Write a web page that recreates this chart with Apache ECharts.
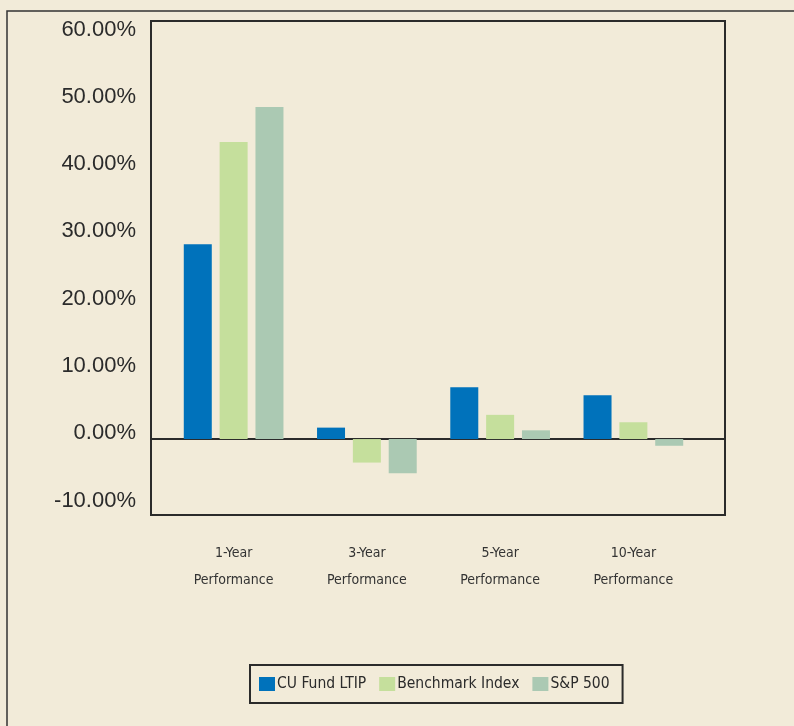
<!DOCTYPE html>
<html>
<head>
<meta charset="utf-8">
<script src="https://cdn.jsdelivr.net/npm/echarts@6/dist/echarts.min.js"></script>
<style>
html,body{margin:0;padding:0;background:#f2ebd9;}
#c{width:794px;height:726px;}
</style>
</head>
<body>
<div id="c"></div>
<script>
var categories = ['1-Year\nPerformance', '3-Year\nPerformance', '5-Year\nPerformance', '10-Year\nPerformance'];
var seriesNames = ['CU Fund LTIP', 'Benchmark Index', 'S&P 500'];
var cuFund = [29.0, 1.7, 7.7, 6.5];
var benchmark = [44.2, -3.5, 3.6, 2.5];
var sp500 = [49.4, -5.1, 1.3, -1.0];
var yTickMin = -10, yTickMax = 60, yTickStep = 10;
var yMin = -11.3, yMax = 62.2;

var colors = ['#0072bb', '#c5df9c', '#abc9b3'];
var ink = '#2b2b2b';
var narrow = '"Liberation Sans Narrow","DejaVu Sans Condensed",sans-serif';
var sans = '"Liberation Sans",Arial,Helvetica,sans-serif';

var chart = echarts.init(document.getElementById('c'), null, {renderer: 'canvas'});
chart.setOption({
  backgroundColor: '#f2ebd9',
  animation: false,
  graphic: [{
    type: 'rect', z: -1, silent: true,
    shape: {x: 7, y: 11, width: 900, height: 900},
    style: {fill: null, stroke: '#333', lineWidth: 1.5}
  }],
  legend: {
    left: 250, top: 665,
    padding: [11, 13, 11, 9],
    borderColor: ink, borderWidth: 2,
    itemWidth: 16, itemHeight: 14, itemGap: 13,
    icon: 'rect',
    data: seriesNames,
    textStyle: {fontFamily: narrow, fontSize: 15.5, color: ink, padding: [0, 0, 0, -3]}
  },
  grid: [
    {left: 151, right: 69, top: 21, bottom: 211, show: true, borderColor: ink, borderWidth: 2, backgroundColor: 'transparent'},
    {left: 167, right: 94, top: 21, bottom: 211},
    {left: 151, right: 69, top: 29.5, bottom: 225.5}
  ],
  xAxis: [
    {gridIndex: 0, type: 'value', min: 0, max: 1, show: true,
     axisLine: {show: true, onZero: true, lineStyle: {color: ink, width: 2}},
     axisTick: {show: false}, axisLabel: {show: false}, splitLine: {show: false}},
    {gridIndex: 1, type: 'category', data: categories, position: 'bottom',
     axisLine: {show: false, onZero: false}, axisTick: {show: false}, splitLine: {show: false},
     axisLabel: {margin: 25, fontFamily: narrow, fontSize: 14, lineHeight: 27, color: '#333'}},
    {gridIndex: 2, type: 'value', show: false, min: 0, max: 1}
  ],
  yAxis: [
    {gridIndex: 0, type: 'value', min: yMin, max: yMax, show: false, splitLine: {show: false}},
    {gridIndex: 1, type: 'value', min: yMin, max: yMax, show: false, splitLine: {show: false}},
    {gridIndex: 2, type: 'value', min: yTickMin, max: yTickMax, interval: yTickStep,
     axisLine: {show: false}, axisTick: {show: false}, splitLine: {show: false},
     axisLabel: {
       margin: 15,
       fontFamily: sans, fontSize: 22, color: '#2b2b2b',
       formatter: function (v) { return v.toFixed(2) + '%'; }
     }}
  ],
  series: [
    {name: seriesNames[0], type: 'bar', xAxisIndex: 1, yAxisIndex: 1, data: cuFund, barWidth: 28, barGap: '28%', itemStyle: {color: colors[0]}},
    {name: seriesNames[1], type: 'bar', xAxisIndex: 1, yAxisIndex: 1, data: benchmark, barWidth: 28, barGap: '28%', itemStyle: {color: colors[1]}},
    {name: seriesNames[2], type: 'bar', xAxisIndex: 1, yAxisIndex: 1, data: sp500, barWidth: 28, barGap: '28%', itemStyle: {color: colors[2]}}
  ]
});
</script>
</body>
</html>
